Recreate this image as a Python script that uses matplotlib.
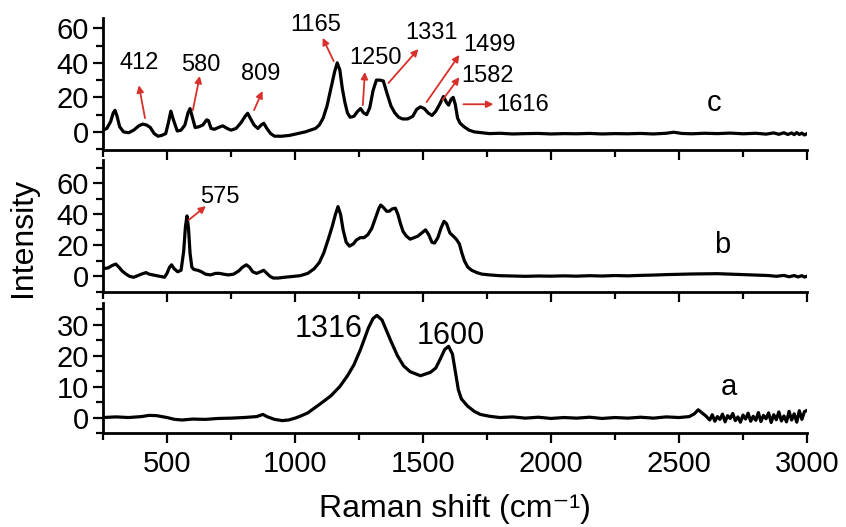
import matplotlib
matplotlib.use("Agg")
import matplotlib.pyplot as plt
from matplotlib.ticker import MultipleLocator

plt.rcParams['font.family'] = ['Liberation Sans', 'DejaVu Sans']

# ---------------- data ----------------
# spectrum c
c_x = [250, 265, 280, 290, 297, 305, 315, 330, 350, 370, 390, 405, 420, 435, 450, 465, 480, 495,
       505, 515, 525, 540, 555, 570, 582, 590, 598, 610, 625, 640, 655, 662, 672, 685, 700, 718,
       735, 750, 770, 790, 805, 815, 825, 840, 855, 868, 878, 890, 905, 920, 950, 980, 1010, 1040,
       1060, 1080, 1095, 1110, 1125, 1140, 1155, 1165, 1175, 1185, 1195, 1205, 1215, 1230, 1245,
       1256, 1268, 1280, 1292, 1305, 1318, 1332, 1345, 1360, 1375, 1390, 1405, 1420, 1440, 1460,
       1475, 1490, 1505, 1520, 1535, 1550, 1565, 1580, 1592, 1600, 1610, 1618, 1626, 1635, 1645,
       1660, 1680, 1700, 1730, 1760, 1800, 1850, 1900, 1950, 2000, 2050, 2100, 2150, 2200, 2250,
       2300, 2350, 2400, 2450, 2480, 2510, 2550, 2600, 2650, 2700, 2750, 2800, 2840, 2870, 2890,
       2910, 2925, 2940, 2950, 2960, 2970, 2980, 2990, 3000]
c_y = [1, 2, 6, 11, 12.5, 9, 3, 0, -0.5, 1, 3.5, 4.5, 4, 2.5, -1, -2.5, -2, -1,
       5, 12, 7, 0.5, 1, 4, 11, 13.5, 9, 2.5, 3, 4, 7, 6.5, 2, 1.5, 2.5, 3.5,
       2, 1, 2, 5.5, 9, 10.8, 8, 4, 2, 4, 5, 2, -1, -2.5, -2.5, -2, -1, 0,
       1, 2, 4, 8, 15, 25, 35, 40, 36, 25, 17, 11, 8.5, 9, 12,
       13.5, 11, 10, 14, 24, 30, 30, 29.5, 22, 15, 11, 8.5, 7.5, 7.5, 9,
       13, 14.5, 13.5, 11, 9.5, 12, 16, 20.5, 17, 15.5, 19, 20, 16, 8, 5,
       3, 1, 0, -0.5, -1, -0.8, -1.2, -1, -0.9, -1.2, -1, -1.1, -0.9, -1.2, -1,
       -1.1, -0.9, -1.2, -0.8, -0.2, -0.9, -1.1, -0.8, -1, -0.7, -1.1, -0.8, -1.3, -0.6, -1.4,
       -0.5, -1.5, -0.6, -1.6, -0.4, -1.5, -0.7, -1.8, -1.0]

# spectrum b
b_x = [250, 270, 285, 300, 312, 325, 340, 355, 370, 385, 400, 418, 430, 445, 460, 475, 490,
       500, 510, 518, 528, 542, 555, 565, 572, 578, 584, 590, 597, 605, 620, 635, 650, 670, 690,
       705, 720, 740, 760, 780, 795, 810, 822, 835, 850, 865, 878, 890, 903, 915, 935, 960, 990,
       1020, 1050, 1075, 1095, 1112, 1130, 1145, 1158, 1168, 1178, 1188, 1200, 1213, 1228, 1240,
       1255, 1270, 1285, 1300, 1315, 1328, 1335, 1345, 1358, 1368, 1380, 1392, 1402, 1412, 1422,
       1435, 1450, 1465, 1480, 1495, 1510, 1522, 1535, 1545, 1558, 1570, 1582, 1592, 1605, 1618,
       1630, 1642, 1652, 1662, 1675, 1690, 1710, 1730, 1760, 1800, 1850, 1900, 1950, 2000, 2050,
       2100, 2150, 2200, 2250, 2300, 2350, 2400, 2450, 2500, 2550, 2600, 2650, 2700, 2750, 2800,
       2850, 2880, 2910, 2930, 2950, 2965, 2980, 2990, 3000]
b_y = [5, 5.5, 7, 8, 6, 3.5, 1.5, 0, -0.5, 0.5, 1.5, 2.5, 1.5, 1, 0.5, 0, -0.5,
       2, 6, 7.5, 5, 3, 4, 16, 32, 39, 31, 15, 6, 4.5, 4, 3, 1.5, 1, 2,
       2, 1.5, 1, 1.5, 3.5, 6, 7.5, 6, 3, 2, 3, 4, 2, 0, -1, -1, -0.5, 0,
       0.5, 2, 5, 9, 15, 24, 32, 40, 45, 40, 30, 22, 19.5, 21, 23.5,
       25, 25, 27, 31, 38, 44, 46, 44.5, 42, 42, 43.5, 44, 40, 34, 29,
       26, 24, 25, 26, 28, 30, 27, 22, 21.5, 25, 31, 35.5, 34, 28, 26,
       24, 21, 15, 10, 6, 4, 2.5, 1.5, 1, 0.5, 0.3, 0.1, 0.3, 0.2, 0.4,
       0.2, 0.5, 0.3, 0.6, 0.4, 0.7, 0.9, 1.2, 1.4, 1.6, 1.7, 1.8, 1.5, 1.2, 0.9,
       0.6, 0.1, 0.7, -0.2, 0.6, -0.3, 0.5, -0.4, 0.2]

# spectrum a
a_x = [250, 300, 350, 400, 430, 460, 500, 530, 560, 600, 650, 700, 750, 800, 850, 875, 890, 920,
       950, 975, 1000, 1020, 1050, 1075, 1100, 1140, 1175, 1205, 1230, 1256, 1287, 1305, 1320,
       1340, 1373, 1400, 1424, 1450, 1490, 1529, 1550, 1568, 1585, 1600, 1615, 1628, 1638, 1650,
       1674, 1700, 1724, 1760, 1800, 1850, 1900, 1950, 2000, 2050, 2100, 2150, 2200, 2250, 2300,
       2350, 2400, 2450, 2500, 2540, 2560, 2575, 2590, 2605, 2620, 2630, 2640, 2650, 2660, 2670,
       2680, 2690, 2700, 2710, 2720, 2730, 2740, 2750, 2760, 2770, 2780, 2790, 2800, 2810, 2820,
       2830, 2840, 2850, 2860, 2870, 2880, 2890, 2900, 2910, 2920, 2930, 2940, 2950, 2960, 2970,
       2980, 2990, 3000]
a_y = [0, 0.2, 0, 0.3, 0.7, 0.6, 0, -0.6, -0.8, -0.5, -0.6, -0.3, -0.2, 0, 0.3, 1, 0.3, -0.6,
       -1, -0.8, -0.2, 0.4, 1.5, 3, 4.5, 7, 10, 13.5, 17, 22, 29, 32, 33,
       31.5, 25, 20, 16.7, 14.8, 13.5, 14.6, 16, 19, 22, 23, 20.5, 14, 9, 6,
       3.7, 2, 1, 0.4, 0, 0.2, -0.2, 0.1, -0.3, 0, -0.2, 0.1, -0.3, 0, -0.2,
       0.1, -0.2, 0.2, 0, 0.3, 1.2, 2.5, 1.5, 0.5, -0.8, 0.9, -1.2, 0.3, -0.6, 1.1,
       -1.4, 0.6, -0.3, 1.3, -1.0, 0.2, -1.5, 0.8, -0.5, 1.4, -1.2, 0.4, -0.9, 1.6, -1.3,
       0.7, -0.4, 1.5, -1.6, 0.9, -0.7, 1.8, -1.1, 0.5, -1.4, 2.0, -0.8, 1.2, -1.5, 2.2,
       -0.6, 1.9, 2.3]

# annotations: (label, text x, text y, arrow tail x, tail y, arrow head x, head y)
c_notes = [("412", 390, 40, 414, 8, 390, 27),
           ("580", 632, 38.8, 601, 12.6, 628, 32.4),
           ("809", 866, 33.5, 840, 12.6, 873, 23.7),
           ("1165", 1081, 62, 1151, 41, 1108, 54.5),
           ("1250", 1315, 42.8, 1265, 15.5, 1273, 34.7),
           ("1331", 1533, 57.2, 1365, 28.3, 1482, 48),
           ("1499", 1759, 50.4, 1514, 17.3, 1642, 44.6),
           ("1582", 1751, 32.4, 1576, 18.4, 1642, 31.7),
           ("1616", 1888, 15.5, 1658, 16, 1775, 16)]
b_notes = [("575", 706, 51.4, 585, 36.4, 652, 45.3)]

x_ticks = [500, 1000, 1500, 2000, 2500, 3000]
c_yticks = [0, 20, 40, 60]
b_yticks = [0, 20, 40, 60]
a_yticks = [0, 10, 20, 30]

# ---------------- figure ----------------
W, H = 846, 527
fig = plt.figure(figsize=(W / 100, H / 100), dpi=100)
left = 103 / W
width = (807 - 103) / W

def panel(top_px, bot_px):
    return fig.add_axes([left, 1 - bot_px / H, width, (bot_px - top_px) / H])

ax_c = panel(18, 150)
ax_b = panel(160, 292)
ax_a = panel(303, 433)

red = '#d8302a'
for ax, xs, ys, ylim, yt, ymin in [(ax_c, c_x, c_y, (-10.5, 66), c_yticks, 10),
                                   (ax_b, b_x, b_y, (-10, 75), b_yticks, 10),
                                   (ax_a, a_x, a_y, (-5, 37), a_yticks, 5)]:
    ax.plot(xs, ys, color='black', lw=2.3, solid_joinstyle='round')
    ax.set_xlim(250, 3000)
    ax.set_ylim(*ylim)
    ax.set_yticks(yt)
    ax.yaxis.set_minor_locator(MultipleLocator(ymin))
    ax.set_xticks(x_ticks)
    ax.xaxis.set_minor_locator(MultipleLocator(250))
    for s in ['top', 'right']:
        ax.spines[s].set_visible(False)
    for s in ['left', 'bottom']:
        ax.spines[s].set_linewidth(2.0)
    ax.tick_params(which='major', direction='out', length=7, width=1.6, labelsize=21, pad=3)
    ax.tick_params(which='minor', direction='out', length=5, width=1.6)
    ax.patch.set_alpha(0)

ax_c.tick_params(axis='x', which='both', labelbottom=False)
ax_b.tick_params(axis='x', which='both', labelbottom=False)
ax_a.tick_params(axis='x', which='major', pad=5)

for ax, notes in [(ax_c, c_notes), (ax_b, b_notes)]:
    for lab, tx, ty, x0, y0, x1, y1 in notes:
        ax.text(tx, ty, lab, fontsize=17, ha='center', va='center', clip_on=False)
        ax.annotate('', xy=(x1, y1), xytext=(x0, y0),
                    arrowprops=dict(arrowstyle='-|>', color=red, lw=1.3,
                                    mutation_scale=10, shrinkA=0, shrinkB=0),
                    annotation_clip=False)

ax_a.text(1264, 28.7, "1316", fontsize=22, ha='right', va='center')
ax_a.text(1607, 26.4, "1600", fontsize=22, ha='center', va='center')

ax_c.text(2637, 16.7, "c", fontsize=21, ha='center', va='center')
ax_b.text(2668, 20.4, "b", fontsize=21, ha='center', va='center')
ax_a.text(2695, 9.8, "a", fontsize=21, ha='center', va='center')

# x label: main text plus a small superscript "-1"
ax_a.set_xlabel("Raman shift (cm\u207b\u00b9)", fontsize=23, labelpad=12)
fig.text(23 / W, 1 - 237 / H, "Intensity", rotation=90, fontsize=23,
         ha='center', va='center')

fig.savefig("out.png", dpi=100)
